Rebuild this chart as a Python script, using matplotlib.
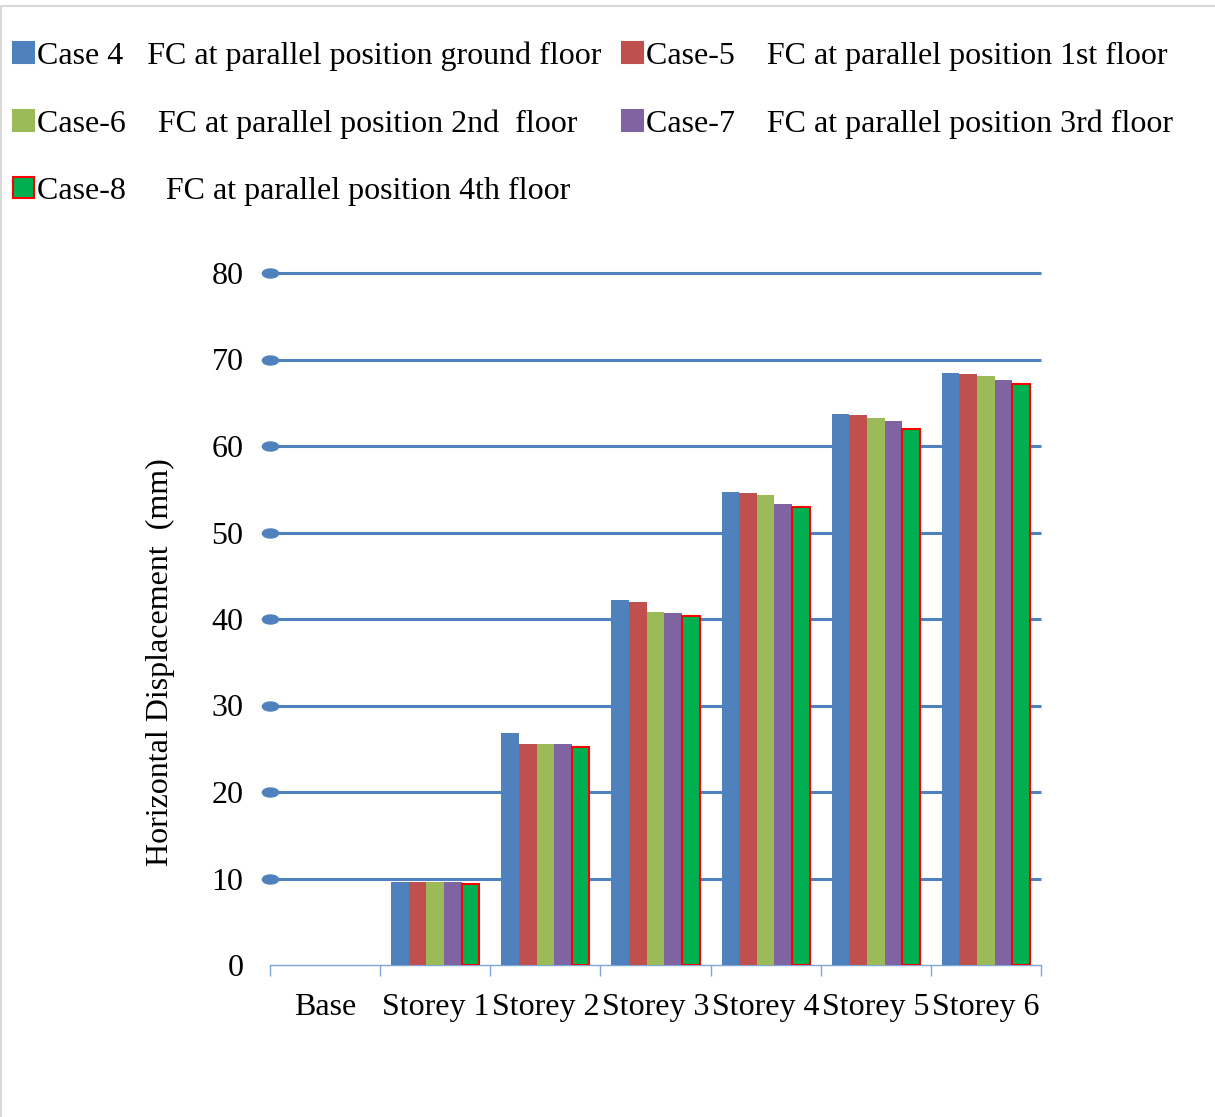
import matplotlib.pyplot as plt
import numpy as np
from matplotlib.lines import Line2D
from matplotlib.markers import MarkerStyle
from matplotlib.patches import Patch
from matplotlib.transforms import Affine2D

plt.rcParams['font.family'] = ['Liberation Serif', 'DejaVu Serif']

storeys = ["Base", "Storey 1", "Storey 2", "Storey 3", "Storey 4", "Storey 5", "Storey 6"]
case_labels = [
    "Case 4   FC at parallel position ground floor",
    "Case-5    FC at parallel position 1st floor",
    "Case-6    FC at parallel position 2nd  floor",
    "Case-7    FC at parallel position 3rd floor",
    "Case-8     FC at parallel position 4th floor",
]
case4 = [0, 9.6, 26.8, 42.2, 54.7, 63.7, 68.4]
case5 = [0, 9.6, 25.5, 42.0, 54.6, 63.6, 68.3]
case6 = [0, 9.6, 25.5, 40.8, 54.3, 63.2, 68.1]
case7 = [0, 9.6, 25.5, 40.7, 53.3, 62.9, 67.6]
case8 = [0, 9.4, 25.2, 40.3, 52.9, 62.0, 67.2]
y_ticks = [0, 10, 20, 30, 40, 50, 60, 70, 80]

series = [case4, case5, case6, case7, case8]
fills = ["#4F81BD", "#C0504D", "#9BBB59", "#8064A2", "#00B050"]
FS = 23

fig = plt.figure(figsize=(12.15, 11.17), dpi=100)
ax = fig.add_axes([270 / 1215, 1 - 965 / 1117, 771 / 1215, 692 / 1117])

x = np.arange(len(storeys))
bw = 0.16
handles = []
for i, vals in enumerate(series):
    offs = (i - 2) * bw
    bars = ax.bar(x + offs, vals, width=bw, color=fills[i], linewidth=0, zorder=3)
    if i == 4:
        # last case gets a red outline on every non-empty bar
        for b, v in zip(bars, vals):
            if v > 0:
                b.set_edgecolor("#FF0000")
                b.set_linewidth(1.5)
        handles.append(Patch(facecolor=fills[i], edgecolor="#FF0000", linewidth=1.5))
    else:
        handles.append(Patch(facecolor=fills[i], edgecolor=fills[i], linewidth=1.5))

ax.set_xlim(-0.5, len(storeys) - 0.5)
ax.set_ylim(0, 80)

# horizontal gridlines with an oval cap at the left end
oval = MarkerStyle('o', transform=Affine2D().scale(1.8, 1.0))
for yv in y_ticks[1:]:
    ax.plot([-0.5, len(storeys) - 0.5], [yv, yv], color="#4F81BD", lw=2.2,
            zorder=2, clip_on=False, solid_capstyle='butt')
    ax.plot([-0.5], [yv], marker=oval, ms=6.5, color="#4F81BD", zorder=4, clip_on=False)

for side in ["left", "right", "top"]:
    ax.spines[side].set_visible(False)
ax.spines["bottom"].set_color("#7FA6D6")
ax.spines["bottom"].set_linewidth(1.0)

ax.set_yticks(y_ticks)
ax.tick_params(axis='y', length=0, pad=19, labelsize=FS)

ax.set_xticks(x)
ax.set_xticklabels(storeys, fontsize=FS)
ax.tick_params(axis='x', length=0, pad=20)
ax.set_xticks(np.arange(-0.5, len(storeys)), minor=True)
ax.tick_params(axis='x', which='minor', length=8, color="#7FA6D6", width=1.0)

ax.set_ylabel("Horizontal Displacement  (mm)", fontsize=FS)
ax.yaxis.set_label_coords(-0.123, 0.438)

order = [0, 2, 4, 1, 3]
fig.legend([handles[k] for k in order], [case_labels[k] for k in order],
           loc="upper left", bbox_to_anchor=(0.0005, 0.9745), ncol=2, frameon=False,
           fontsize=FS, handlelength=0.65, handleheight=0.65, handletextpad=0.1,
           labelspacing=1.2, columnspacing=0.65, borderaxespad=0)

# thin grey frame along the top and left edges
fig.lines.append(Line2D([0.001, 0.001, 1.0], [0.0, 0.9946, 0.9946],
                        transform=fig.transFigure, color="#D9D9D9", lw=1.5))

fig.savefig("out.png", dpi=100)
